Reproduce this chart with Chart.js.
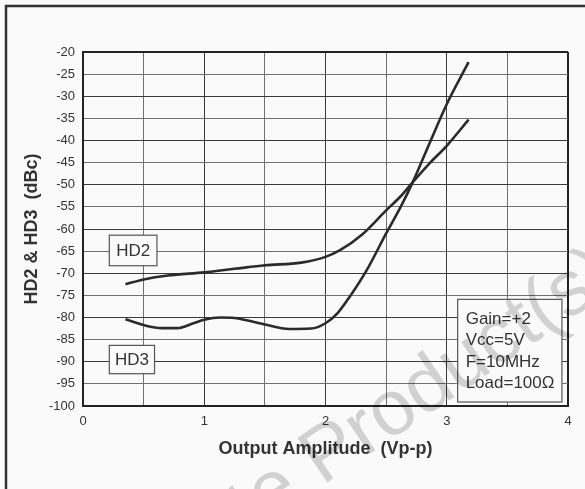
<!DOCTYPE html>
<html>
<head>
<meta charset="utf-8">
<script src="https://cdn.jsdelivr.net/npm/chart.js@4.4.1/dist/chart.umd.min.js"></script>
<style>
  html, body { margin: 0; padding: 0; background: #fafafa; }
  canvas { display: block; }
</style>
</head>
<body>
<canvas id="myChart" width="585" height="489"></canvas>
<script>
// output amplitude (Vp-p) vs distortion (dBc)
const hd2X = [0.35, 0.5, 0.7, 1.0, 1.25, 1.5, 1.8, 2.0, 2.12, 2.3, 2.5, 2.62, 2.72, 2.86, 3.0, 3.18];
const hd2Y = [-72.5, -71.4, -70.5, -69.8, -69.0, -68.2, -67.6, -66.3, -64.8, -61.3, -55.8, -52.6, -49.4, -45.1, -41.2, -35.3];
const hd3X = [0.35, 0.5, 0.65, 0.78, 0.91, 1.0, 1.13, 1.25, 1.38, 1.5, 1.7, 1.88, 2.0, 2.1, 2.2, 2.34, 2.5, 2.62, 2.72, 2.86, 3.0, 3.18];
const hd3Y = [-80.4, -81.7, -82.4, -82.4, -81.3, -80.5, -80.0, -80.1, -80.8, -81.6, -82.6, -82.5, -81.3, -79.0, -75.3, -69.3, -61.0, -55.0, -49.4, -40.5, -31.8, -22.3];

const seriesLabels = ['HD2', 'HD3'];
const infoLines = ['Gain=+2', 'Vcc=5V', 'F=10MHz', 'Load=100Ω'];
const watermark = 'Obsolete Product(s)';

const FONT = "'Liberation Sans', Arial, Helvetica, sans-serif";
Chart.defaults.font.family = FONT;
Chart.defaults.color = '#333';

function toPoints(xs, ys) {
    return xs.map((x, i) => ({ x: x, y: ys[i] }));
}

// frame, label boxes, condition box and watermark
const extras = {
    id: 'extras',
    beforeDraw(chart) {
        const c = chart.ctx;
        c.save();
        c.fillStyle = '#fafafa';
        c.fillRect(0, 0, chart.width, chart.height);
        c.strokeStyle = '#333';
        c.lineWidth = 2.5;
        c.strokeRect(6, 6, chart.width + 20, chart.height + 20);
        c.restore();
    },
    afterDatasetsDraw(chart) {
        const c = chart.ctx;
        const xs = chart.scales.x, ys = chart.scales.y;
        const box = (x0, x1, y0, y1) => {
            const l = xs.getPixelForValue(x0), r = xs.getPixelForValue(x1);
            const t = ys.getPixelForValue(y0), b = ys.getPixelForValue(y1);
            c.fillStyle = '#fafafa';
            c.fillRect(l, t, r - l, b - t);
            c.strokeStyle = '#555';
            c.lineWidth = 1.2;
            c.strokeRect(l, t, r - l, b - t);
            return { l, r, t, b };
        };
        c.save();
        c.font = '17px ' + FONT;
        c.textBaseline = 'middle';
        c.textAlign = 'center';

        let b = box(0.217, 0.61, -61.4, -68.3);
        c.fillStyle = '#333';
        c.fillText(seriesLabels[0], (b.l + b.r) / 2, (b.t + b.b) / 2 + 1);

        b = box(0.217, 0.59, -86.3, -92.7);
        c.fillStyle = '#333';
        c.fillText(seriesLabels[1], (b.l + b.r) / 2, (b.t + b.b) / 2 + 1);

        b = box(3.09, 3.95, -75.9, -99.1);
        c.fillStyle = '#333';
        c.textAlign = 'left';
        infoLines.forEach((s, i) => {
            c.fillText(s, b.l + 8, b.t + 20 + i * 21.3);
        });
        c.restore();
    },
    afterDraw(chart) {
        const c = chart.ctx;
        c.save();
        c.translate(322, 486);
        c.rotate(-34 * Math.PI / 180);
        c.font = '78px ' + FONT;
        c.fillStyle = 'rgba(0, 0, 0, 0.16)';
        c.textBaseline = 'alphabetic';
        const parts = watermark.split(' ');
        c.textAlign = 'right';
        c.fillText(parts[0] + ' ', 0, 0);
        c.textAlign = 'left';
        c.fillText(parts[1], 0, 0);
        c.restore();
    }
};

const ctx = document.getElementById('myChart').getContext('2d');
const chart = new Chart(ctx, {
    type: 'scatter',
    data: {
        datasets: [
            {
                label: seriesLabels[0],
                data: toPoints(hd2X, hd2Y),
                showLine: true,
                borderColor: '#2b2b2b',
                borderWidth: 2.6,
                pointRadius: 0,
                cubicInterpolationMode: 'monotone'
            },
            {
                label: seriesLabels[1],
                data: toPoints(hd3X, hd3Y),
                showLine: true,
                borderColor: '#2b2b2b',
                borderWidth: 2.6,
                pointRadius: 0,
                cubicInterpolationMode: 'monotone'
            }
        ]
    },
    options: {
        responsive: false,
        animation: false,
        layout: { padding: { left: 0, top: 52, right: 17, bottom: 0 } },
        plugins: {
            legend: { display: false },
            tooltip: { enabled: false }
        },
        scales: {
            x: {
                type: 'linear',
                min: 0,
                max: 4,
                afterFit: s => { s.height = 83; },
                ticks: {
                    stepSize: 0.5,
                    autoSkip: false,
                    maxRotation: 0,
                    padding: 8,
                    font: { size: 13 },
                    color: '#333',
                    callback: v => (v % 1 === 0 ? v : '')
                },
                grid: {
                    drawTicks: false,
                    color: c => (c.tick && c.tick.value === 4 ? '#222' : (c.tick && c.tick.value % 1 === 0 ? '#3a3a3a' : '#707070')),
                    lineWidth: c => (c.tick && c.tick.value === 4 ? 2 : 1)
                },
                border: { color: '#222', width: 2 },
                title: {
                    display: true,
                    text: 'Output Amplitude  (Vp-p)',
                    font: { size: 18, weight: 'bold' },
                    color: '#333',
                    padding: { top: 0, bottom: 29 }
                }
            },
            y: {
                min: -100,
                max: -20,
                afterFit: s => { s.width = 83; },
                ticks: {
                    stepSize: 5,
                    autoSkip: false,
                    padding: 8,
                    font: { size: 13 },
                    color: '#333'
                },
                grid: {
                    drawTicks: false,
                    color: c => (c.tick && c.tick.value === -20 ? '#222' : (c.tick && c.tick.value % 10 === 0 ? '#3a3a3a' : '#707070')),
                    lineWidth: c => (c.tick && c.tick.value === -20 ? 2 : 1)
                },
                border: { color: '#222', width: 2 },
                title: {
                    display: true,
                    text: 'HD2 & HD3  (dBc)',
                    font: { size: 18, weight: 'bold' },
                    color: '#333',
                    padding: { top: 21, bottom: 0 }
                }
            }
        }
    },
    plugins: [extras]
});
</script>
</body>
</html>
